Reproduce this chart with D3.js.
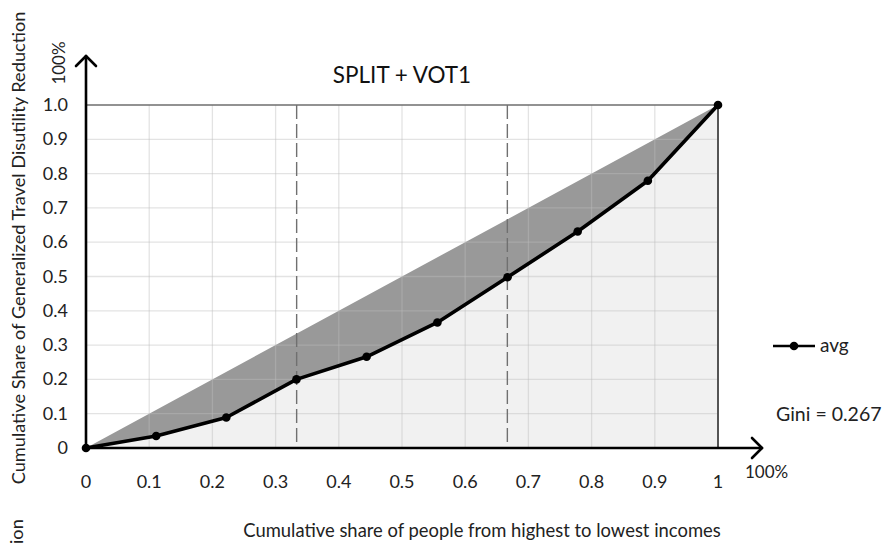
<!DOCTYPE html>
<html>
<head>
<meta charset="utf-8">
<script src="https://cdn.jsdelivr.net/npm/d3@7"></script>
<style>
  html, body { margin: 0; padding: 0; background: #fff; }
  svg { display: block; font-family: Lato, "Open Sans", sans-serif; }
</style>
</head>
<body>
<svg id="chart" width="886" height="546"></svg>
<script>
// Lorenz-style curve: cumulative population share vs cumulative benefit share
const populationShare = [0, 0.111, 0.222, 0.333, 0.444, 0.556, 0.667, 0.778, 0.889, 1];
const avgShare = [0, 0.035, 0.089, 0.2, 0.266, 0.366, 0.498, 0.631, 0.779, 1];
const xTickValues = [0, 0.1, 0.2, 0.3, 0.4, 0.5, 0.6, 0.7, 0.8, 0.9, 1];
const xTickLabels = ["0", "0.1", "0.2", "0.3", "0.4", "0.5", "0.6", "0.7", "0.8", "0.9", "1"];
const yTickValues = [0, 0.1, 0.2, 0.3, 0.4, 0.5, 0.6, 0.7, 0.8, 0.9, 1];
const yTickLabels = ["0", "0.1", "0.2", "0.3", "0.4", "0.5", "0.6", "0.7", "0.8", "0.9", "1.0"];
const tercileMarks = [0.3333, 0.6667];
const equalityLine = [0, 1];
const giniValue = "0.267";
const chartTitle = "SPLIT + VOT1";

const svg = d3.select("#chart");
const x = d3.scaleLinear().domain([0, 1]).range([86, 718]);
const y = d3.scaleLinear().domain([0, 1]).range([448, 105]);
const pts = populationShare.map((p, i) => [p, avgShare[i]]);
const line = d3.line().x(d => x(d[0])).y(d => y(d[1]));

// light fill below the curve
const under = d3.area().x(d => x(d[0])).y0(y(0)).y1(d => y(d[1]));
svg.append("path").datum(pts).attr("d", under).attr("fill", "#f1f1f1");

// dark fill between the equality line and the curve
const between = [[equalityLine[0], equalityLine[0]]]
  .concat(pts.slice(1, -1))
  .concat([[equalityLine[1], equalityLine[1]]]);
svg.append("path").attr("d", line(between) + "Z").attr("fill", "#999999");

// grid
const gridVals = xTickValues.slice(1, -1);
svg.append("g").selectAll("line").data(gridVals).join("line")
  .attr("x1", d => x(d)).attr("x2", d => x(d)).attr("y1", y(0)).attr("y2", y(1))
  .attr("stroke", "#bcbcbc").attr("stroke-opacity", 0.42).attr("stroke-width", 1.3);
svg.append("g").selectAll("line").data(yTickValues.slice(1, -1)).join("line")
  .attr("x1", x(0)).attr("x2", x(1)).attr("y1", d => y(d)).attr("y2", d => y(d))
  .attr("stroke", "#bcbcbc").attr("stroke-opacity", 0.42).attr("stroke-width", 1.3);

// top and right frame
svg.append("line").attr("x1", x(0)).attr("x2", x(1)).attr("y1", y(1)).attr("y2", y(1))
  .attr("stroke", "#6e6e6e").attr("stroke-width", 1.6);
svg.append("line").attr("x1", x(1)).attr("x2", x(1)).attr("y1", y(1)).attr("y2", y(0))
  .attr("stroke", "#555").attr("stroke-width", 2);

// tercile markers
svg.append("g").selectAll("line").data(tercileMarks).join("line")
  .attr("x1", d => x(d)).attr("x2", d => x(d)).attr("y1", y(1)).attr("y2", y(0))
  .attr("stroke", "#707070").attr("stroke-width", 1.4).attr("stroke-dasharray", "14,5");

// axes with open arrowheads
const ax = svg.append("g").attr("stroke", "#000").attr("stroke-width", 2.6).attr("fill", "none")
  .attr("stroke-linecap", "round").attr("stroke-linejoin", "round");
ax.append("line").attr("x1", x(0)).attr("x2", 762).attr("y1", y(0)).attr("y2", y(0));
ax.append("path").attr("d", `M752,${y(0) - 10} L762,${y(0)} L752,${y(0) + 10}`);
ax.append("line").attr("x1", x(0)).attr("x2", x(0)).attr("y1", y(0)).attr("y2", 56);
ax.append("path").attr("d", `M${x(0) - 10},66 L${x(0)},56 L${x(0) + 10},66`);

// curve and markers
svg.append("path").datum(pts).attr("d", line)
  .attr("fill", "none").attr("stroke", "#000").attr("stroke-width", 3.6).attr("stroke-linejoin", "round");
svg.append("g").selectAll("circle").data(pts).join("circle")
  .attr("cx", d => x(d[0])).attr("cy", d => y(d[1])).attr("r", 4.3).attr("fill", "#000");

// tick labels
const ink = "#222";
svg.append("g").selectAll("text").data(xTickValues).join("text")
  .attr("x", d => x(d)).attr("y", 488).attr("text-anchor", "middle")
  .attr("font-size", "18px").attr("fill", ink)
  .text((d, i) => xTickLabels[i]);
svg.append("g").selectAll("text").data(yTickValues).join("text")
  .attr("x", 68).attr("y", d => y(d) + 6).attr("text-anchor", "end")
  .attr("font-size", "18px").attr("fill", ink)
  .text((d, i) => yTickLabels[i]);

svg.append("text").attr("x", 745).attr("y", 478).attr("font-size", "17px").attr("fill", ink).text("100%");
svg.append("text").attr("transform", "translate(65,63) rotate(-90)").attr("text-anchor", "middle")
  .attr("font-size", "17px").attr("fill", ink).text("100%");

// title
svg.append("text").attr("x", 402).attr("y", 83).attr("text-anchor", "middle")
  .attr("font-size", "22.5px").attr("fill", "#111").text(chartTitle);

// axis titles
svg.append("text").attr("x", 482).attr("y", 537).attr("text-anchor", "middle")
  .attr("font-size", "18.4px").attr("fill", ink)
  .text("Cumulative share of people from highest to lowest incomes");
svg.append("text").attr("transform", "translate(25,248) rotate(-90)").attr("text-anchor", "middle")
  .attr("font-size", "18.2px").attr("fill", ink)
  .text("Cumulative Share of Generalized Travel Disutility Reduction");
svg.append("text").attr("transform", "translate(23,544) rotate(-90)").attr("text-anchor", "start")
  .attr("font-size", "18.2px").attr("fill", ink).text("ion");

// legend
const lg = svg.append("g");
lg.append("line").attr("x1", 773).attr("x2", 815).attr("y1", 346).attr("y2", 346)
  .attr("stroke", "#000").attr("stroke-width", 2.4);
lg.append("circle").attr("cx", 794).attr("cy", 346).attr("r", 4.3).attr("fill", "#000");
lg.append("text").attr("x", 820).attr("y", 352).attr("font-size", "19px").attr("fill", ink).text("avg");
svg.append("text").attr("x", 776).attr("y", 421).attr("font-size", "19.5px").attr("fill", ink)
  .text("Gini = " + giniValue);
</script>
</body>
</html>
